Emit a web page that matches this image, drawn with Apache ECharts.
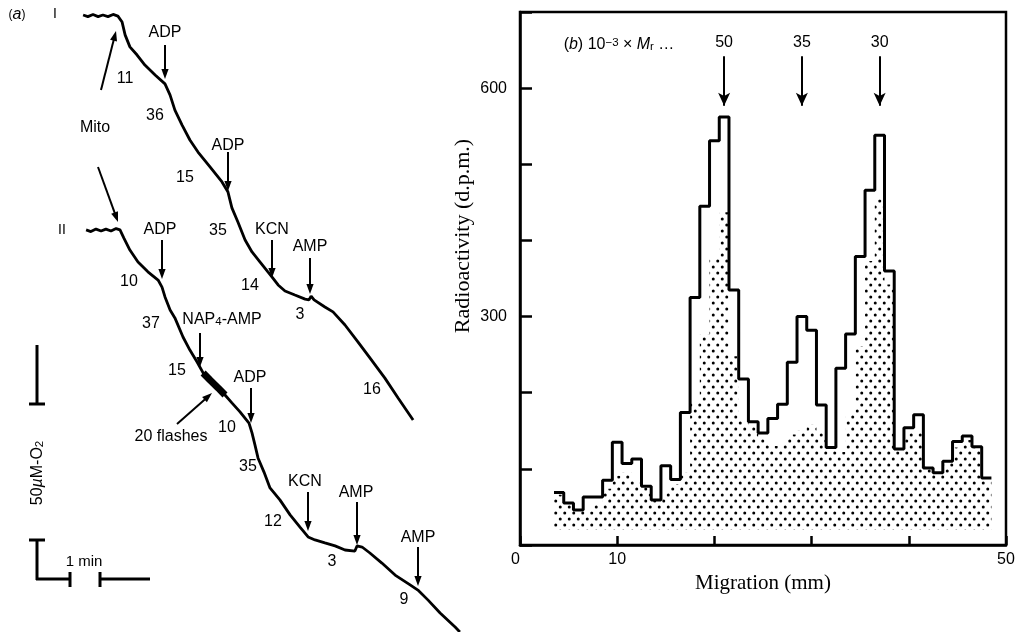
<!DOCTYPE html>
<html>
<head>
<meta charset="utf-8">
<script src="https://cdn.jsdelivr.net/npm/echarts@6.0.0/dist/echarts.min.js"></script>
<style>
html, body { margin: 0; padding: 0; background: #fff; }
#chart { width: 1018px; height: 632px; }
</style>
</head>
<body>
<div id="chart"></div>
<script>
// ---- (b) gel slices, 1 mm each (centre of slice, mm) ----
var sliceMm = [4, 5, 6, 7, 8, 9, 10, 11, 12, 13, 14, 15, 16, 17, 18, 19, 20, 21, 22, 23, 24, 25,
    26, 27, 28, 29, 30, 31, 32, 33, 34, 35, 36, 37, 38, 39, 40, 41, 42, 43, 44, 45, 46, 47, 48];
// open histogram (outline)
var totalDpm = [69, 55, 46, 63, 63, 85, 135, 107, 113, 77, 59, 104, 86, 174, 325, 445, 531, 562, 335, 218, 162, 147,
    166, 185, 240, 300, 282, 184, 128, 232, 277, 379, 466, 538, 360, 126, 154, 171, 101, 95, 110, 136, 143, 129, 88];
// stippled histogram
var stippledDpm = [66, 53, 46, 44, 53, 74, 91, 95, 86, 76, 59, 70, 80, 95, 188, 276, 377, 437, 248, 164, 156, 140,
    130, 133, 145, 150, 158, 149, 126, 122, 171, 261, 373, 454, 342, 123, 149, 147, 103, 95, 108, 128, 138, 127, 84];
// Mr markers (10^-3 x Mr) and where they sit on the gel
var mwLabels = ['50', '35', '30'];
var mwMm = [21, 29, 37];

// ---- (a) oxygen electrode traces: [time (min), O2 (uM)] ----
var traceI = [[2.77, 226.5], [2.93, 225.9], [3.1, 226.7], [3.27, 225.9], [3.43, 226.5], [3.6, 225.9], [3.77, 226.7],
    [3.93, 226.1], [4.07, 223.9], [4.17, 219.2], [4.33, 214.8], [4.57, 211.8], [4.83, 208.1], [5.17, 204.5],
    [5.5, 201.2], [5.67, 197.1], [5.83, 191.6], [6.07, 186.1], [6.33, 180.6], [6.6, 176.2], [7.0, 170.7],
    [7.4, 165.2], [7.6, 161.5], [7.73, 155.7], [7.93, 150.5], [8.17, 143.9], [8.4, 139.5], [8.67, 135.8],
    [8.93, 132.2], [9.07, 130.3], [9.27, 127.4], [9.5, 125.2], [9.83, 123.7], [10.17, 122.2], [10.3, 121.9],
    [10.37, 123.3], [10.47, 121.9], [10.83, 119.3], [11.1, 117.5], [11.5, 112.7], [11.93, 106.5],
    [12.33, 100.6], [12.83, 93.2], [13.27, 85.9], [13.77, 77.8]];
var traceII = [[2.87, 147.6], [3.03, 147.0], [3.2, 147.9], [3.37, 147.2], [3.53, 147.9], [3.7, 147.2], [3.87, 148.1],
    [4.0, 147.6], [4.13, 144.6], [4.33, 140.2], [4.6, 135.8], [4.93, 132.2], [5.27, 129.2], [5.4, 126.6],
    [5.5, 123.0], [5.67, 118.2], [5.83, 115.3], [6.1, 108.3], [6.33, 103.5], [6.57, 99.1], [6.77, 95.1],
    [7.0, 92.5], [7.27, 89.6], [7.5, 87.0], [7.73, 84.1], [8.0, 80.8], [8.3, 76.7], [8.4, 73.1], [8.5, 68.6],
    [8.6, 63.9], [8.8, 58.7], [9.0, 52.9], [9.33, 48.5], [9.67, 43.0], [10.0, 38.5], [10.27, 34.9],
    [10.5, 33.8], [10.83, 32.7], [11.17, 31.6], [11.5, 30.1], [11.83, 29.7], [11.9, 31.6], [12.07, 31.2],
    [12.33, 29.0], [12.73, 25.3], [13.17, 20.9], [13.67, 17.3], [13.93, 15.4], [14.27, 11.7], [14.67, 7.0],
    [15.17, 1.8], [15.33, 0]];
// period of the 20 flashes on trace II (min)
var flashWindow = [6.75, 7.6];

var chart = echarts.init(document.getElementById('chart'));

var SANS = 'Liberation Sans';
var SERIF = 'Liberation Serif';

// stipple pattern for the shaded histogram (staggered dots)
var dots = document.createElement('canvas');
dots.width = 9;
dots.height = 12;
var dc = dots.getContext('2d');
dc.fillStyle = '#000';
[[2.25, 3], [6.75, 9]].forEach(function (p) {
    dc.beginPath();
    dc.arc(p[0], p[1], 1.5, 0, Math.PI * 2);
    dc.fill();
});

// histogram -> step points on slice edges
function toSteps(values) {
    var pts = sliceMm.map(function (m, i) { return [m - 0.5, values[i]]; });
    pts.push([sliceMm[sliceMm.length - 1] + 0.5, values[values.length - 1]]);
    return pts;
}

var rich = {
    i: { fontFamily: SANS, fontSize: 16, fontStyle: 'italic', fill: '#000' },
    sub: { fontFamily: SANS, fontSize: 11.5, verticalAlign: 'bottom', fill: '#000' },
    sup: { fontFamily: SANS, fontSize: 11.5, verticalAlign: 'top', fill: '#000' }
};

function lbl(text, x, y, size, extra) {
    var el = {
        type: 'text', x: x, y: y, silent: true,
        style: {
            text: text, fill: '#000', font: (size || 16) + 'px "' + SANS + '"',
            align: 'center', verticalAlign: 'middle', rich: rich
        }
    };
    if (extra) for (var k in extra) el[k] = extra[k];
    return el;
}

function arrow(x1, y1, x2, y2) {
    var a = Math.atan2(y2 - y1, x2 - x1), h = 10, w = 3.6;
    var c = Math.cos(a), s = Math.sin(a);
    return [{
        type: 'line', silent: true,
        shape: { x1: x1, y1: y1, x2: x2 - c * h * 0.7, y2: y2 - s * h * 0.7 },
        style: { stroke: '#000', lineWidth: 2 }
    }, {
        type: 'polygon', silent: true,
        shape: { points: [[x2, y2], [x2 - c * h - s * w, y2 - s * h + c * w], [x2 - c * h + s * w, y2 - s * h - c * w]] },
        style: { fill: '#000' }
    }];
}

function bar(x1, y1, x2, y2) {
    return { type: 'line', silent: true, shape: { x1: x1, y1: y1, x2: x2, y2: y2 }, style: { stroke: '#000', lineWidth: 3 } };
}

var graphics = [
    lbl('({i|a})', 17, 15, 12),
    lbl('I', 55, 14, 14),
    lbl('II', 62, 230, 14),
    lbl('Mito', 95, 128),
    lbl('ADP', 165, 33), lbl('11', 125, 79), lbl('36', 155, 116),
    lbl('ADP', 228, 146), lbl('15', 185, 178), lbl('35', 218, 231),
    lbl('KCN', 272, 230), lbl('14', 250, 286), lbl('AMP', 310, 247),
    lbl('3', 300, 315), lbl('16', 372, 390),
    lbl('ADP', 160, 230), lbl('10', 129, 282), lbl('37', 151, 324),
    lbl('NAP{sub|4}-AMP', 222, 320), lbl('15', 177, 371), lbl('ADP', 250, 378),
    lbl('20 flashes', 171, 437), lbl('10', 227, 428), lbl('35', 248, 467),
    lbl('KCN', 305, 482), lbl('12', 273, 522), lbl('AMP', 356, 493),
    lbl('3', 332, 562), lbl('AMP', 418, 538), lbl('9', 404, 600),
    lbl('50{i|µ}M-O{sub|2}', 38, 473, 16, { rotation: Math.PI / 2 }),
    lbl('1 min', 84, 562, 15),
    bar(37, 345, 37, 404), bar(29, 404, 45, 404),
    bar(29, 540, 45, 540), bar(37, 540, 37, 580), bar(36, 579, 70, 579),
    bar(70, 572, 70, 587), bar(100, 572, 100, 587), bar(100, 579, 150, 579),
    lbl('({i|b}) 10{sup|−3} × {i|M}{sub|r} …', 619, 45, 16),
    lbl('Radioactivity (d.p.m.)', 463, 236, 22, { rotation: Math.PI / 2 })
];
graphics[graphics.length - 1].style.font = '22px "' + SERIF + '"';
[[165, 45, 165, 79], [228, 152, 228, 191], [272, 240, 272, 278], [310, 258, 310, 294],
    [101, 90, 116, 31], [98, 167, 118, 222],
    [162, 240, 162, 279], [200, 333, 200, 367], [177, 424, 212, 393], [251, 388, 251, 423],
    [308, 492, 308, 531], [357, 502, 357, 545], [418, 547, 418, 586]].forEach(function (a) {
    graphics = graphics.concat(arrow(a[0], a[1], a[2], a[3]));
});

var option = {
    backgroundColor: '#fff',
    animation: false,
    grid: [
        { left: 0, top: 0, width: 480, height: 632, show: false },
        { left: 520, top: 12, width: 486, height: 533, show: true, borderColor: '#000', borderWidth: 2.5 }
    ],
    xAxis: [
        { gridIndex: 0, type: 'value', min: 0, max: 16, show: false },
        {
            gridIndex: 1, type: 'value', min: 0, max: 50, interval: 10,
            name: 'Migration (mm)', nameLocation: 'middle', nameGap: 22,
            nameTextStyle: { fontFamily: SERIF, fontSize: 21, color: '#000' },
            axisLine: { lineStyle: { color: '#000', width: 2.5 } },
            axisTick: { inside: true, length: 9, lineStyle: { color: '#000', width: 2.5 } },
            splitLine: { show: false },
            axisLabel: {
                margin: 7, color: '#000', fontFamily: SANS, fontSize: 16, alignMinLabel: 'right',
                formatter: function (v) { return (v === 0 || v === 10 || v === 50) ? String(v) : ''; }
            }
        }
    ],
    yAxis: [
        { gridIndex: 0, type: 'value', min: 0, max: 232, show: false },
        {
            gridIndex: 1, type: 'value', min: 0, max: 700, interval: 100,
            axisLine: { lineStyle: { color: '#000', width: 2.5 } },
            axisTick: { inside: true, length: 12, lineStyle: { color: '#000', width: 2.5 } },
            splitLine: { show: false },
            axisLabel: {
                margin: 13, color: '#000', fontFamily: SANS, fontSize: 16,
                formatter: function (v) { return (v === 300 || v === 600) ? String(v) : ''; }
            }
        }
    ],
    series: [
        {
            name: 'trace I', type: 'line', xAxisIndex: 0, yAxisIndex: 0, data: traceI,
            symbol: 'none', lineStyle: { color: '#000', width: 2.8 }, silent: true
        },
        {
            name: 'trace II', type: 'line', xAxisIndex: 0, yAxisIndex: 0, data: traceII,
            symbol: 'none', lineStyle: { color: '#000', width: 2.8 }, silent: true
        },
        {
            name: 'flashes', type: 'line', xAxisIndex: 0, yAxisIndex: 0,
            data: traceII.filter(function (p) { return p[0] >= flashWindow[0] && p[0] <= flashWindow[1]; }),
            symbol: 'none', lineStyle: { color: '#000', width: 7 }, silent: true
        },
        {
            name: 'stippled', type: 'line', xAxisIndex: 1, yAxisIndex: 1, step: 'end',
            data: toSteps(stippledDpm), symbol: 'none', silent: true, z: 2,
            lineStyle: { width: 0, opacity: 0 },
            areaStyle: { color: { image: dots, repeat: 'repeat' }, opacity: 1, origin: 20 }
        },
        {
            name: 'total', type: 'line', xAxisIndex: 1, yAxisIndex: 1, step: 'end',
            data: toSteps(totalDpm), symbol: 'none', silent: true, z: 3,
            lineStyle: { color: '#000', width: 3 },
            markLine: {
                silent: true, symbol: ['none', 'arrow'], symbolSize: [9, 13], animation: false,
                lineStyle: { color: '#000', width: 2, type: 'solid' },
                label: {
                    show: true, position: 'start', color: '#000', fontFamily: SANS, fontSize: 16, distance: 6,
                    formatter: function (p) { return p.name; }
                },
                data: mwLabels.map(function (l, i) {
                    return [{ name: l, coord: [mwMm[i], 642] }, { coord: [mwMm[i], 577] }];
                })
            }
        }
    ],
    graphic: graphics
};

chart.setOption(option);
</script>
</body>
</html>
